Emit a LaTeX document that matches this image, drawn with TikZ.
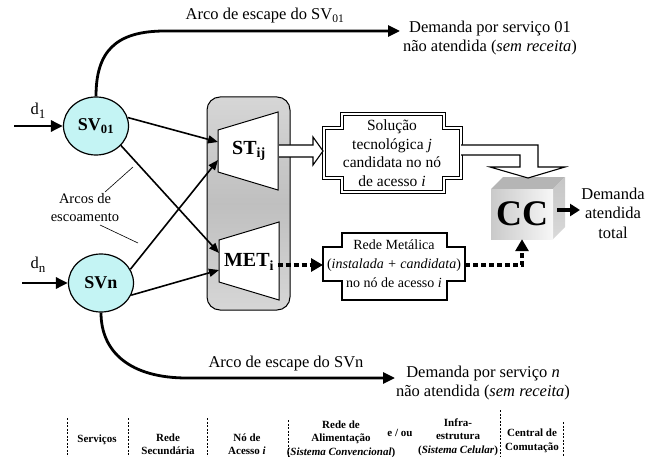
\documentclass[tikz,border=0pt]{standalone}
\usepackage{fontspec}
\setmainfont{Liberation Serif}
\usetikzlibrary{positioning, shapes.geometric, arrows.meta}
\definecolor{svfill}{RGB}{196,244,244}
\newcommand{\lowidx}[1]{\raisebox{-4pt}{\fontsize{13}{13}\selectfont #1}}

\tikzset{
    txt/.style={font=\fontsize{16.5}{19.5}\selectfont, align=center, inner sep=0pt},
    boxtxt/.style={font=\fontsize{15.5}{18.5}\selectfont, align=center, inner sep=0pt},
    tab/.style={font=\bfseries\fontsize{11}{13.5}\selectfont, align=center, inner sep=0pt},
    svnode/.style={draw, ellipse, line width=1.2pt, fill=svfill, minimum width=65pt, minimum height=58pt, inner sep=0pt, font=\bfseries\fontsize{18}{20}\selectfont},
    fatarrow/.style={line width=2.8pt, -{Triangle[length=12pt,width=11pt]}},
    flowarrow/.style={line width=1.6pt, -{Triangle[length=10pt,width=8pt]}},
    dotarrow/.style={line width=4pt, dash pattern=on 5pt off 3pt, -{Triangle[length=12pt,width=13pt]}},
    sep/.style={line width=0.6pt, dash pattern=on 2pt off 1.5pt},
}

\begin{document}
\begin{tikzpicture}[x=1pt, y=-1pt]
    \useasboundingbox (0,0) rectangle (647,457);

    % servicos
    \node[svnode] (sv01) at (96,126) {SV\textsubscript{01}};
    \node[svnode] (svn) at (101,283) {SVn};
    \coordinate (d1start) at (14,126);
    \coordinate (dnstart) at (22,283);
    \node[txt] (d1) at (38,111) {d\lowidx{1}};
    \node[txt] (dn) at (38,265) {d\lowidx{n}};
    \draw[fatarrow] (d1start) -- (sv01.west);
    \draw[fatarrow] (dnstart) -- (svn.west);

    % no de acesso
    \draw[rounded corners=13pt, line width=1pt, top color=gray!32, bottom color=gray!32, middle color=gray!50] (207,97) rectangle (290,310);
    \draw[fill=white, line width=1pt] (218,130) -- (278,112) -- (278,190) -- (218,172) -- cycle;
    \draw[fill=white, line width=1pt] (219,240) -- (279,222) -- (279,300) -- (219,282) -- cycle;
    \node[font=\bfseries\fontsize{20}{22}\selectfont] (st) at (249,151) {ST\textsubscript{ij}};
    \node[font=\bfseries\fontsize{20}{22}\selectfont] (met) at (249,262) {MET\textsubscript{i}};
    \coordinate (stin1) at (218,142);
    \coordinate (stin2) at (218,160);
    \coordinate (metin1) at (219,253);
    \coordinate (metin2) at (219,270);

    \draw[flowarrow] (sv01.15) -- (stin1);
    \draw[flowarrow] (sv01.-38) -- (metin1);
    \draw[flowarrow] (svn.25) -- (stin2);
    \draw[flowarrow] (svn.-22) -- (metin2);

    \node[txt, font=\fontsize{14.5}{18}\selectfont] (arcos) at (85,208) {Arcos de\\escoamento};
    \draw[line width=0.6pt] (105,192) -- (133,167);
    \draw[line width=0.6pt] (100,225) -- (138,243);

    % arcos de escape
    \coordinate (esc1end) at (400,31);
    \coordinate (escnend) at (395,378);
    \draw[fatarrow] (sv01.north) .. controls (96,52) and (115,31) .. (165,31) -- (esc1end);
    \draw[fatarrow] (svn.south) .. controls (101,352) and (130,378) .. (187,378) -- (escnend);
    \node[txt] (esc1) at (265,16) {Arco de escape do SV\textsubscript{01}};
    \node[txt] (escn) at (286,364) {Arco de escape do SVn};
    \node[txt] (dem1) at (490,38) {Demanda por serviço 01\\não atendida (\textit{sem receita})};
    \node[txt] (demn) at (483,383) {Demanda por serviço \textit{n}\\não atendida (\textit{sem receita})};

    % solucao tecnologica
    \draw[double, double distance=2pt, line width=0.9pt, fill=white] (342,114) -- (444,114) -- (444,128) -- (461,128) -- (461,178) -- (444,178) -- (444,192) -- (342,192) -- (342,178) -- (324,178) -- (324,128) -- (342,128) -- cycle;
    \node[boxtxt] (sol) at (392,153) {Solução\\tecnológica \textit{j}\\candidata no nó\\de acesso \textit{i}};
    \draw[line width=1.1pt, fill=white] (279,145) -- (313,145) -- (313,137) -- (323,151) -- (313,165) -- (313,157) -- (279,157);

    % rede metalica
    \draw[line width=1.2pt, fill=white] (342,233) -- (447,233) -- (447,247) -- (465,247) -- (465,281) -- (447,281) -- (447,300) -- (342,300) -- (342,281) -- (323,281) -- (323,247) -- (342,247) -- cycle;
    \node[boxtxt, font=\fontsize{14}{19}\selectfont] (rede) at (394,264) {Rede Metálica\\(\textit{instalada + candidata})\\no nó de acesso \textit{i}};
    \coordinate (redein) at (323,265);
    \coordinate (redeout) at (465,265);
    \draw[dotarrow] (met.east |- redein) -- (redein);

    % central de comutacao
    \fill[gray!58] (491,189) -- (503,177) -- (565,177) -- (553,189) -- cycle;
    \shade[top color=gray!45, bottom color=gray!30] (553,189) -- (565,177) -- (565,227) -- (553,239) -- cycle;
    \shade[left color=gray!42, right color=gray!6] (491,189) rectangle (553,239);
    \node[font=\bfseries\fontsize{36}{36}\selectfont, minimum width=62pt, minimum height=50pt, inner sep=0pt] (cc) at (522,214) {CC};
    \draw[dotarrow] (redeout) -| (cc.south);
    \draw[line width=1.1pt, fill=white] (461,145) -- (538,145) -- (538,167) -- (565,167) -- (528,178) -- (490,167) -- (520,167) -- (520,155) -- (461,155);
    \coordinate (ccout) at (557,210);
    \coordinate (totin) at (580,210);
    \draw[line width=3.5pt, -{Triangle[length=10pt,width=12pt]}] (ccout) -- (totin);
    \node[txt] (total) at (613,213) {Demanda\\atendida\\total};

    % legenda
    \foreach \x/\ytop in {67/418, 128/418, 207/418, 288/420, 500/410, 563/422}
        \draw[sep] (\x,\ytop) -- (\x,457);
    \node[tab] (serv) at (97,440) {Serviços};
    \node[tab] (rsec) at (168,444) {Rede\\Secundária};
    \node[tab] (nace) at (247,444) {Nó de\\Acesso \textit{i}};
    \node[tab] (ralim) at (341,439) {Rede de\\Alimentação\\(\textit{Sistema Convencional})};
    \node[tab] (eou) at (400,433) {e / ou};
    \node[tab] (infra) at (458,437) {Infra-\\estrutura\\(\textit{Sistema Celular})};
    \node[tab] (ccom) at (532,441) {Central de\\Comutação};
\end{tikzpicture}
\end{document}
